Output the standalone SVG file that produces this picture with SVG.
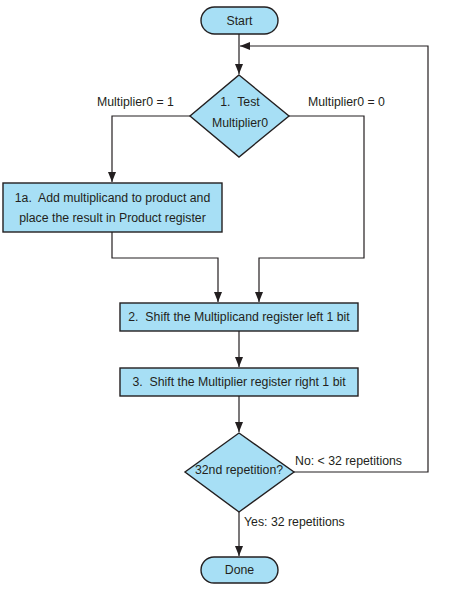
<svg xmlns="http://www.w3.org/2000/svg" width="474" height="599" viewBox="0 0 474 599" xml:space="preserve">
<defs>
<marker id="ah" viewBox="0 0 10 10" refX="10" refY="5" markerWidth="10" markerHeight="10" markerUnits="userSpaceOnUse" orient="auto">
<path d="M0,1 L10,5 L0,9 z" fill="#231f20"/>
</marker>
<style>
.sh{fill:#a7dff5;stroke:#231f20;stroke-width:1.4}
.t{font-family:"Liberation Sans",Arial,sans-serif;font-size:12.3px;fill:#231f20;white-space:pre}
.c{text-anchor:middle}
.ln{fill:none;stroke:#231f20;stroke-width:1.2}
</style>
</defs>
<rect width="474" height="599" fill="#ffffff"/>
<g id="connectors">
<path class="ln" d="M239,34 V74" marker-end="url(#ah)"/>
<path class="ln" d="M190,116 H112 V182" marker-end="url(#ah)"/>
<path class="ln" d="M289,116 H364 V258 H259 V302" marker-end="url(#ah)"/>
<path class="ln" d="M112,232 V258 H218 V302" marker-end="url(#ah)"/>
<path class="ln" d="M239,331 V367" marker-end="url(#ah)"/>
<path class="ln" d="M239,396 V432" marker-end="url(#ah)"/>
<path class="ln" d="M294,472 H428 V46 H240" marker-end="url(#ah)"/>
<path class="ln" d="M239,512 V556" marker-end="url(#ah)"/>
<text class="t" x="97" y="106">Multiplier0 = 1</text>
<text class="t" x="308" y="106">Multiplier0 = 0</text>
<text class="t" x="295" y="465">No: &lt; 32 repetitions</text>
<text class="t" x="244" y="526">Yes: 32 repetitions</text>
</g>
<g id="start">
<rect class="sh" x="201" y="7" width="77" height="27" rx="13.5"/>
<text class="t c" x="239.5" y="25">Start</text>
</g>
<g id="test">
<path class="sh" d="M239,75 L289,116 L239,157 L190,116 Z"/>
<text class="t c" x="240" y="106">1.  Test</text>
<text class="t c" x="240" y="127">Multiplier0</text>
</g>
<g id="add">
<rect class="sh" x="3" y="183" width="219" height="49"/>
<text class="t c" x="112.5" y="202">1a.  Add multiplicand to product and</text>
<text class="t c" x="112.5" y="222">place the result in Product register</text>
</g>
<g id="shiftL">
<rect class="sh" x="120" y="303" width="238" height="28"/>
<text class="t c" x="239" y="321">2.  Shift the Multiplicand register left 1 bit</text>
</g>
<g id="shiftR">
<rect class="sh" x="120" y="368" width="238" height="28"/>
<text class="t c" x="239" y="386">3.  Shift the Multiplier register right 1 bit</text>
</g>
<g id="rep">
<path class="sh" d="M239,433 L294,472 L239,512 L185,472 Z"/>
<text class="t c" x="239" y="474">32nd repetition?</text>
</g>
<g id="done">
<rect class="sh" x="201" y="557" width="77" height="26" rx="13"/>
<text class="t c" x="239.5" y="574">Done</text>
</g>
</svg>
